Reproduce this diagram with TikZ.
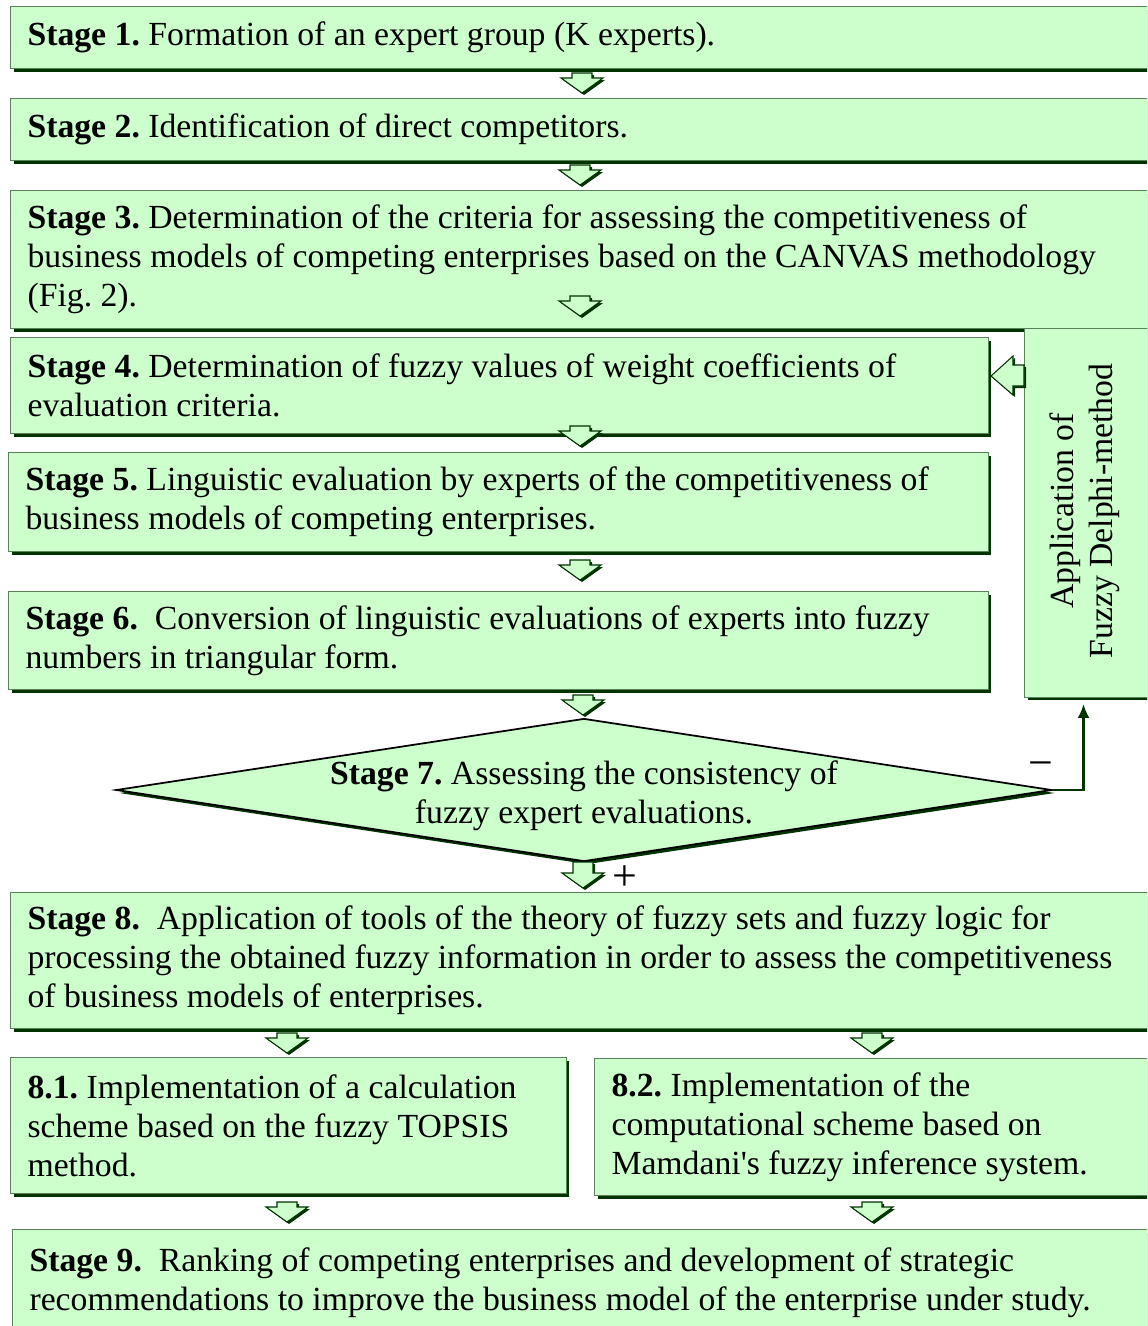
\documentclass[tikz,border=0pt]{standalone}
\usepackage{fontspec}
\setmainfont{Liberation Serif}
\usetikzlibrary{shapes.geometric,shadows,arrows.meta}
\definecolor{boxfill}{RGB}{204,255,204}
\definecolor{boxline}{RGB}{90,130,90}
\definecolor{shadowgreen}{RGB}{0,51,0}
\frenchspacing
\tikzset{
  greenshadow/.style={drop shadow={shadow xshift=0.06cm,shadow yshift=-0.06cm,fill=shadowgreen,opacity=1}},
  stagebox/.style={draw=boxline, line width=0.6pt, fill=boxfill, anchor=north west,
    inner xsep=0.34cm, inner ysep=0pt, align=flush left, greenshadow,
    font=\fontsize{19.2}{22.2}\selectfont\frenchspacing},
  decision/.style={diamond, draw=black, line width=1pt, fill=boxfill, inner sep=0pt,
    minimum width=18.72cm, minimum height=2.86cm, greenshadow},
  plaintext/.style={font=\fontsize{19.2}{22.2}\selectfont\frenchspacing, inner sep=0pt},
  signtext/.style={font=\fontsize{25}{25}\selectfont, inner sep=0pt},
  feedback/.style={draw=shadowgreen, line width=1.4pt, -{Latex[length=0.28cm,width=0.24cm]}},
  pics/downarr/.style={code={
    \fill[shadowgreen] (2,2) -- (23,-13) -- (12,-13) -- (12,{-#1+2}) -- (-8,{-#1+2}) -- (-8,-13) -- (-19,-13) -- cycle;
    \draw[draw=shadowgreen, fill=boxfill, line width=0.6pt] (0,0) -- (21,-15) -- (10,-15) -- (10,-#1) -- (-10,-#1) -- (-10,-15) -- (-21,-15) -- cycle;
  }},
  pics/downarr/.default=20,
  pics/leftarr/.style={code={
    \fill[shadowgreen] (2,2) -- (24,-18) -- (24,-9) -- (35,-9) -- (35,12) -- (24,12) -- (24,21) -- cycle;
    \draw[draw=shadowgreen, fill=boxfill, line width=0.6pt] (0,0) -- (22,-20) -- (22,-11) -- (33,-11) -- (33,10) -- (22,10) -- (22,19) -- cycle;
  }}
}
\begin{document}
\begin{tikzpicture}[x=0.02cm,y=-0.02cm]
\useasboundingbox (0,0) rectangle (1147,1326);
\clip (0,0) rectangle (1147,1326);

\node[stagebox, minimum width=23cm, minimum height=1.24cm, text width=22.32cm] (s1) at (10,6)
  {\textbf{Stage 1.} Formation of an expert group (K experts).};
\node[stagebox, minimum width=23cm, minimum height=1.24cm, text width=22.32cm] (s2) at (10,98)
  {\textbf{Stage 2.} Identification of direct competitors.};
\node[stagebox, minimum width=23cm, minimum height=2.76cm, text width=22.32cm] (s3) at (10,190)
  {\textbf{Stage 3.} Determination of the criteria for assessing the competitiveness of\\
   business models of competing enterprises based on the CANVAS methodology\\
   (Fig. 2).};
\node[stagebox, minimum width=2.52cm, minimum height=7.38cm, text width=1.84cm] (delphi) at (1024,328) {};
\node[plaintext, rotate=90, align=center] (dtext) at (1085,511)
  {Application of\\ Fuzzy Delphi-method};
\node[stagebox, minimum width=19.56cm, minimum height=1.92cm, text width=18.88cm] (s4) at (10,337)
  {\textbf{Stage 4.} Determination of fuzzy values of weight coefficients of\\
   evaluation criteria.};
\node[stagebox, minimum width=19.6cm, minimum height=1.98cm, text width=18.92cm] (s5) at (8,452)
  {\textbf{Stage 5.} Linguistic evaluation by experts of the competitiveness of\\
   business models of competing enterprises.};
\node[stagebox, minimum width=19.6cm, minimum height=1.96cm, text width=18.92cm] (s6) at (8,591)
  {\textbf{Stage 6.}\ \ Conversion of linguistic evaluations of experts into fuzzy\\
   numbers in triangular form.};
\node[decision] (s7) at (584,790) {};
\node[plaintext, align=center] (s7text) at (584,796)
  {\textbf{Stage 7.} Assessing the consistency of\\ fuzzy expert evaluations.};
\node[stagebox, minimum width=23cm, minimum height=2.72cm, text width=22.32cm] (s8) at (10,892)
  {\textbf{Stage 8.}\ \ Application of tools of the theory of fuzzy sets and fuzzy logic for\\
   processing the obtained fuzzy information in order to assess the competitiveness\\
   of business models of enterprises.};
\node[stagebox, minimum width=11.12cm, minimum height=2.72cm, text width=10.44cm] (s81) at (10,1057)
  {\textbf{8.1.} Implementation of a calculation\\
   scheme based on the fuzzy TOPSIS\\
   method.};
\node[stagebox, minimum width=11.32cm, minimum height=2.74cm, text width=10.64cm] (s82) at (594,1058)
  {\textbf{8.2.} Implementation of the\\
   computational scheme based on\\
   Mamdani\textquotesingle s fuzzy inference system.};
\node[stagebox, minimum width=22.96cm, minimum height=2.12cm, text width=22.28cm] (s9) at (12,1229)
  {\textbf{Stage 9.}\ \ Ranking of competing enterprises and development of strategic\\
   recommendations to improve the business model of the enterprise under study.};

% block arrows
\pic at (582,93) {downarr};
\pic at (580,185) {downarr};
\pic at (580,316) {downarr};
\pic at (580,446) {downarr};
\pic at (580,580) {downarr};
\pic at (583,715) {downarr};
\pic at (583,888) {downarr=26};
\pic at (287,1053) {downarr};
\pic at (872,1053) {downarr};
\pic at (287,1222) {downarr};
\pic at (872,1222) {downarr};
\pic at (991,376) {leftarr};

% feedback
\draw[feedback, shorten >=0.12cm] (s7.east) -| ([xshift=-0.08cm]delphi.south);
\node[signtext] (minus) at (1041,770) {−};
\node[signtext] (plus) at (625,878) {+};
\end{tikzpicture}
\end{document}
